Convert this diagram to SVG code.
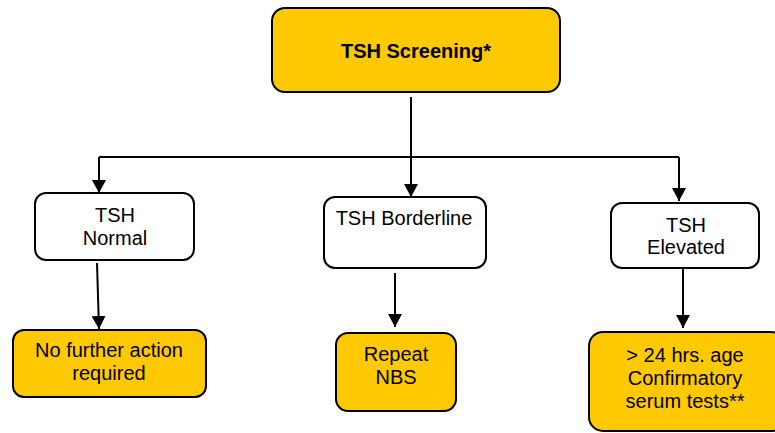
<svg xmlns="http://www.w3.org/2000/svg" width="775" height="433" viewBox="0 0 775 433">
<defs>
<marker id="arr" markerUnits="userSpaceOnUse" markerWidth="14" markerHeight="14" refX="13" refY="7" orient="auto">
<path d="M0,0 L13,7 L0,14 z" fill="#000"/>
</marker>
<style>
.y{fill:#FFC900;stroke:#000;stroke-width:2}
.w{fill:#fff;stroke:#000;stroke-width:2}
.t{font-family:"Liberation Sans",Arial,sans-serif;font-size:20px;fill:#000;text-anchor:middle}
.b{font-weight:bold}
.c{fill:none;stroke:#000;stroke-width:2}
</style>
</defs>
<rect width="775" height="433" fill="#fff"/>
<g id="connectors">
<path class="c" d="M411,97 V197" marker-end="url(#arr)"/>
<path class="c" d="M99,157 H679"/>
<path class="c" d="M99,157 V193" marker-end="url(#arr)"/>
<path class="c" d="M679,157 V201" marker-end="url(#arr)"/>
<path class="c" d="M97,263 L99,329" marker-end="url(#arr)"/>
<path class="c" d="M395,273 V327" marker-end="url(#arr)"/>
<path class="c" d="M683,268 V328" marker-end="url(#arr)"/>
</g>
<g id="screening">
<rect class="y" x="272" y="8" width="288" height="84" rx="13"/>
<text class="t b" x="416" y="58">TSH Screening*</text>
</g>
<g id="normal">
<rect class="w" x="35" y="193" width="159" height="67" rx="11"/>
<text class="t" x="115" y="222">TSH</text>
<text class="t" x="115" y="245">Normal</text>
</g>
<g id="borderline">
<rect class="w" x="324" y="197" width="162" height="71" rx="11"/>
<text class="t" x="404" y="225">TSH Borderline</text>
</g>
<g id="elevated">
<rect class="w" x="611" y="203" width="148" height="65" rx="11"/>
<text class="t" x="686" y="232">TSH</text>
<text class="t" x="686" y="254">Elevated</text>
</g>
<g id="nofurther">
<rect class="y" x="13" y="330" width="193" height="67" rx="11"/>
<text class="t" x="109" y="357">No further action</text>
<text class="t" x="109" y="380">required</text>
</g>
<g id="repeat">
<rect class="y" x="336" y="333" width="120" height="78" rx="12"/>
<text class="t" x="396" y="361">Repeat</text>
<text class="t" x="396" y="384">NBS</text>
</g>
<g id="confirm">
<rect class="y" x="589" y="332" width="196" height="99" rx="14"/>
<text class="t" x="685" y="362">&gt; 24 hrs. age</text>
<text class="t" x="685" y="385">Confirmatory</text>
<text class="t" x="685" y="408">serum tests**</text>
</g>
</svg>
